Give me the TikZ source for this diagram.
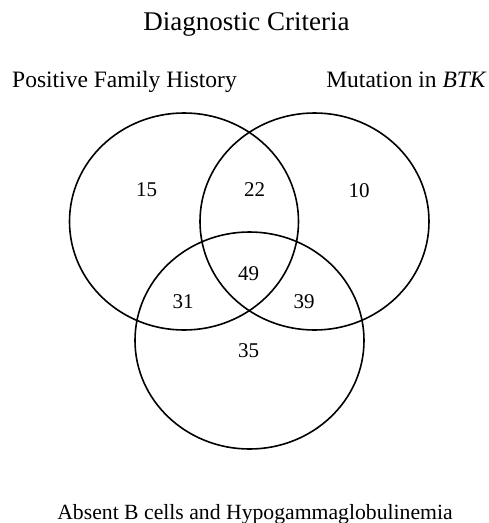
\documentclass[tikz,border=0pt]{standalone}
\usepackage{fontspec}
\setmainfont{Liberation Serif}
\usetikzlibrary{shapes.geometric}

\tikzset{
  setcircle/.style={draw, ellipse, line width=1.6pt, inner sep=0pt,
    minimum width=229pt, minimum height=217pt},
  countlbl/.style={inner sep=0pt, font=\fontsize{21}{24}\selectfont},
  setlbl/.style={anchor=base, inner sep=0pt, font=\fontsize{23.5}{27}\selectfont}
}

\begin{document}
\begin{tikzpicture}[x=1pt,y=1pt,yscale=-1,xscale=1]
\useasboundingbox (0,0) rectangle (489,523);

%Shape: Ellipse [family history]
\node [setcircle] (famHist) at (184,221.5) {};
%Shape: Ellipse [BTK mutation]
\node [setcircle] (btkMut) at (314.5,221.5) {};
%Shape: Ellipse [B cells]
\node [setcircle] (bCells) at (249.5,340.5) {};

% Text Node
\node [anchor=base, inner sep=0pt, font=\fontsize{27}{31}\selectfont] (title) at (246.5,30) {Diagnostic Criteria};
% Text Node
\node [setlbl] (famLbl) at (124.5,87) {Positive Family History};
% Text Node
\node [setlbl] (btkLbl) at (406.5,87) {Mutation in \textit{BTK}};
% Text Node
\node [anchor=base, inner sep=0pt, font=\fontsize{21.7}{25}\selectfont] (bLbl) at (255,519) {Absent B cells and Hypogammaglobulinemia};

% Text Node
\node [countlbl] (nFam) at (146.5,189.5) {15};
% Text Node
\node [countlbl] (nFamBtk) at (254.5,189.5) {22};
% Text Node
\node [countlbl] (nBtk) at (359,190.5) {10};
% Text Node
\node [countlbl] (nAll) at (248.5,273.5) {49};
% Text Node
\node [countlbl] (nFamB) at (183,301.5) {31};
% Text Node
\node [countlbl] (nBtkB) at (304,301.5) {39};
% Text Node
\node [countlbl] (nB) at (248.5,350.5) {35};

\end{tikzpicture}
\end{document}
